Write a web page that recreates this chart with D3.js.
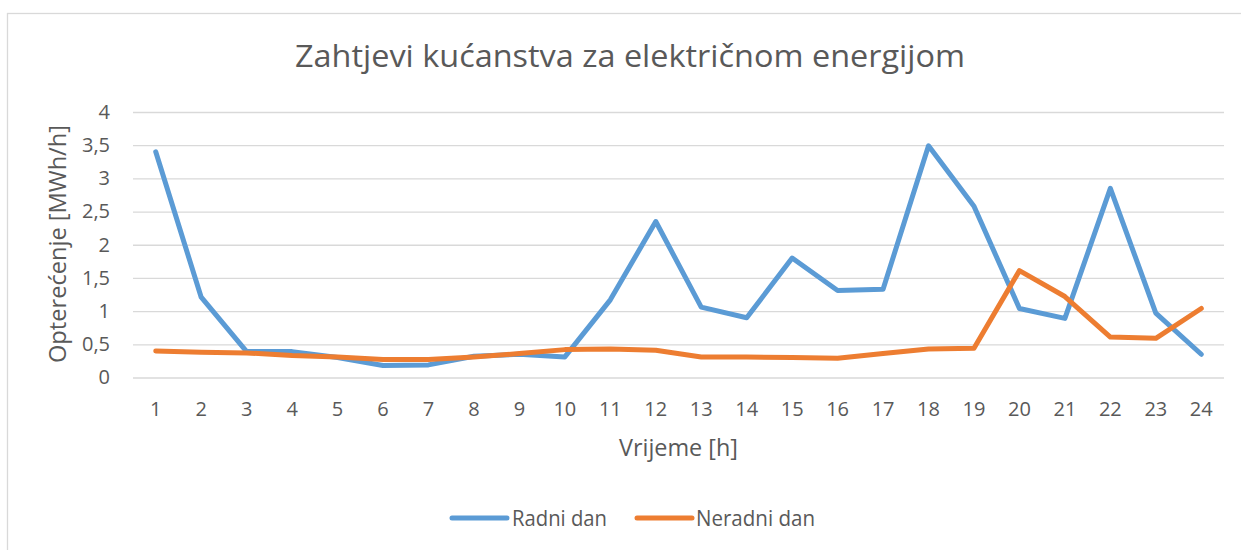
<!DOCTYPE html>
<html>
<head>
<meta charset="utf-8">
<script src="https://cdn.jsdelivr.net/npm/d3@7"></script>
<style>
  html, body { margin: 0; padding: 0; background: #fff; }
  svg { display: block; font-family: "Open Sans", sans-serif; }
</style>
</head>
<body>
<svg id="chart" width="1241" height="550"></svg>
<script>
// ---- data ----
const hours = [1,2,3,4,5,6,7,8,9,10,11,12,13,14,15,16,17,18,19,20,21,22,23,24];
const radniDan = [3.40,1.21,0.39,0.39,0.30,0.18,0.19,0.32,0.35,0.31,1.17,2.35,1.06,0.90,1.80,1.31,1.33,3.49,2.58,1.04,0.89,2.85,0.97,0.35];
const neradniDan = [0.40,0.38,0.37,0.33,0.31,0.27,0.27,0.31,0.36,0.42,0.43,0.41,0.31,0.31,0.30,0.29,0.36,0.43,0.44,1.61,1.22,0.61,0.59,1.04];
const yTicks = [0,0.5,1,1.5,2,2.5,3,3.5,4];
const seriesNames = ["Radni dan", "Neradni dan"];
const titleText = "Zahtjevi kućanstva za električnom energijom";
const xTitle = "Vrijeme [h]";
const yTitle = "Opterećenje [MWh/h]";

// ---- layout ----
const colors = ["#5B9BD5", "#ED7D31"];
const textColor = "#595959";
const gridColor = "#d9d9d9";
const plot = { left: 133, right: 1224, top: 112, bottom: 377.5 };

const svg = d3.select("#chart");

// chart frame (cropped at right/bottom like the reference)
svg.append("rect")
  .attr("x", 7.5).attr("y", 13.5)
  .attr("width", 1400).attr("height", 700)
  .attr("fill", "#fff").attr("stroke", gridColor).attr("stroke-width", 1.3);

const x = d3.scaleBand().domain(hours).range([plot.left, plot.right]).padding(0);
const y = d3.scaleLinear().domain([0, 4]).range([plot.bottom, plot.top]);
const cx = d => x(d) + x.bandwidth() / 2;

// y axis with gridlines
const yAxis = d3.axisLeft(y)
  .tickValues(yTicks)
  .tickSize(-(plot.right - plot.left))
  .tickPadding(23)
  .tickFormat(d => String(d).replace(".", ","));
const gy = svg.append("g").attr("transform", `translate(${plot.left},0)`).call(yAxis);
gy.select(".domain").remove();
gy.selectAll(".tick line").attr("stroke", gridColor).attr("stroke-width", 1.3);
gy.selectAll(".tick text")
  .attr("fill", textColor)
  .style("font-size", "20px")
  .style("font-family", "'Open Sans', sans-serif");

// x axis labels
const xAxis = d3.axisBottom(x).tickSize(0).tickPadding(0);
const gx = svg.append("g").attr("transform", `translate(0,${plot.bottom})`).call(xAxis);
gx.select(".domain").remove();
gx.selectAll(".tick text")
  .attr("fill", textColor)
  .attr("dy", null)
  .attr("y", 38.5)
  .style("font-size", "20px")
  .style("font-family", "'Open Sans', sans-serif");

// lines
const line = d3.line().x((d, i) => cx(hours[i])).y(d => y(d));
[radniDan, neradniDan].forEach((vals, k) => {
  svg.append("path")
    .datum(vals)
    .attr("d", line)
    .attr("fill", "none")
    .attr("stroke", colors[k])
    .attr("stroke-width", 5)
    .attr("stroke-linejoin", "round")
    .attr("stroke-linecap", "round");
});

// title
svg.append("text")
  .attr("x", 630).attr("y", 67)
  .attr("text-anchor", "middle")
  .attr("fill", textColor)
  .attr("textLength", 670).attr("lengthAdjust", "spacingAndGlyphs")
  .style("font-size", "31px")
  .text(titleText);

// x axis title
svg.append("text")
  .attr("x", 678.5).attr("y", 456)
  .attr("text-anchor", "middle")
  .attr("fill", textColor)
  .attr("textLength", 119).attr("lengthAdjust", "spacingAndGlyphs")
  .style("font-size", "23px")
  .text(xTitle);

// y axis title
svg.append("text")
  .attr("transform", `translate(66,244) rotate(-90)`)
  .attr("text-anchor", "middle")
  .attr("fill", textColor)
  .attr("textLength", 238).attr("lengthAdjust", "spacingAndGlyphs")
  .style("font-size", "23px")
  .text(yTitle);

// legend
const legend = [
  { x1: 452, x2: 507, tx: 512, tl: 95 },
  { x1: 637, x2: 692, tx: 696, tl: 119 }
];
legend.forEach((l, k) => {
  svg.append("line")
    .attr("x1", l.x1).attr("x2", l.x2)
    .attr("y1", 518).attr("y2", 518)
    .attr("stroke", colors[k]).attr("stroke-width", 5)
    .attr("stroke-linecap", "round");
  svg.append("text")
    .attr("x", l.tx).attr("y", 526)
    .attr("fill", textColor)
    .attr("textLength", l.tl).attr("lengthAdjust", "spacingAndGlyphs")
    .style("font-size", "21px")
    .text(seriesNames[k]);
});
</script>
</body>
</html>
